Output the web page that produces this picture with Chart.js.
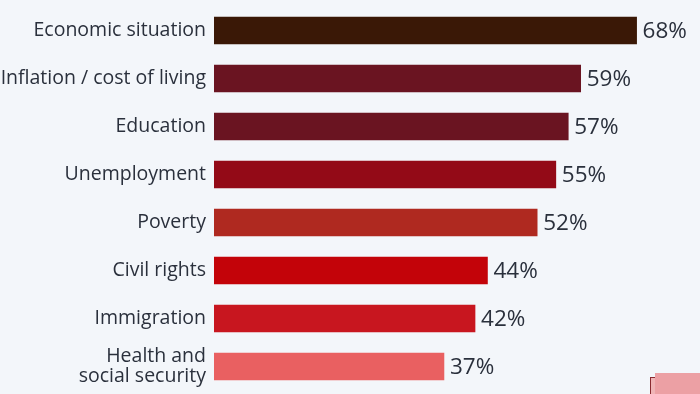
<!DOCTYPE html>
<html>
<head>
<meta charset="utf-8">
<script src="https://cdn.jsdelivr.net/npm/chart.js@4/dist/chart.umd.min.js"></script>
<style>
  html, body { margin: 0; padding: 0; background: #f3f6fa; }
  #wrap { position: relative; width: 700px; height: 394px; overflow: hidden; }
  #corner { position: absolute; left: 650px; top: 377px; width: 60px; height: 30px;
            border-left: 1px solid #8a2a30; border-top: 1px solid #8a2a30; background: #f0b5b7; }
  #corner2 { position: absolute; left: 655px; top: 373px; width: 60px; height: 30px; background: #eca0a4; }
</style>
</head>
<body>
<div id="wrap">
  <canvas id="chart" width="700" height="394"></canvas>
  <div id="corner"></div>
  <div id="corner2"></div>
</div>
<script>
const categories = [
    'Economic situation',
    'Inflation / cost of living',
    'Education',
    'Unemployment',
    'Poverty',
    'Civil rights',
    'Immigration',
    ['Health and', 'social security']
];
const shares = [68, 59, 57, 55, 52, 44, 42, 37];
const barColors = ['#3a1806', '#6a1421', '#6a1421', '#930a17', '#af2920', '#c30309', '#c8161f', '#e96061'];

// value labels to the right of each bar
const valueLabels = {
    id: 'valueLabels',
    afterDatasetsDraw(chart) {
        const ctx = chart.ctx;
        const meta = chart.getDatasetMeta(0);
        ctx.save();
        ctx.font = '22.5px "Open Sans"';
        ctx.fillStyle = '#2a303c';
        ctx.textAlign = 'left';
        ctx.textBaseline = 'middle';
        meta.data.forEach((bar, i) => {
            ctx.fillText(shares[i] + '%', bar.x + 6, bar.y + 1);
        });
        ctx.restore();
    }
};

const ctx = document.getElementById('chart').getContext('2d');
new Chart(ctx, {
    type: 'bar',
    data: {
        labels: categories,
        datasets: [{
            data: shares,
            backgroundColor: barColors,
            borderWidth: 0,
            barThickness: 27
        }]
    },
    options: {
        indexAxis: 'y',
        responsive: false,
        animation: false,
        layout: { padding: { top: 6.5, bottom: 3.5, right: 0, left: 0 } },
        plugins: {
            legend: { display: false },
            tooltip: { enabled: false }
        },
        scales: {
            x: {
                display: false,
                min: 0,
                max: 78.2
            },
            y: {
                grid: { display: false, drawTicks: false },
                border: { display: false },
                ticks: {
                    color: '#2a303c',
                    font: { family: '"Open Sans"', size: 19.5, lineHeight: 1.0 },
                    padding: 8,
                    autoSkip: false
                },
                afterFit(scale) {
                    scale.width = 214;
                    scale.paddingTop = 0;
                    scale.paddingBottom = 0;
                }
            }
        }
    },
    plugins: [valueLabels]
});
</script>
</body>
</html>
